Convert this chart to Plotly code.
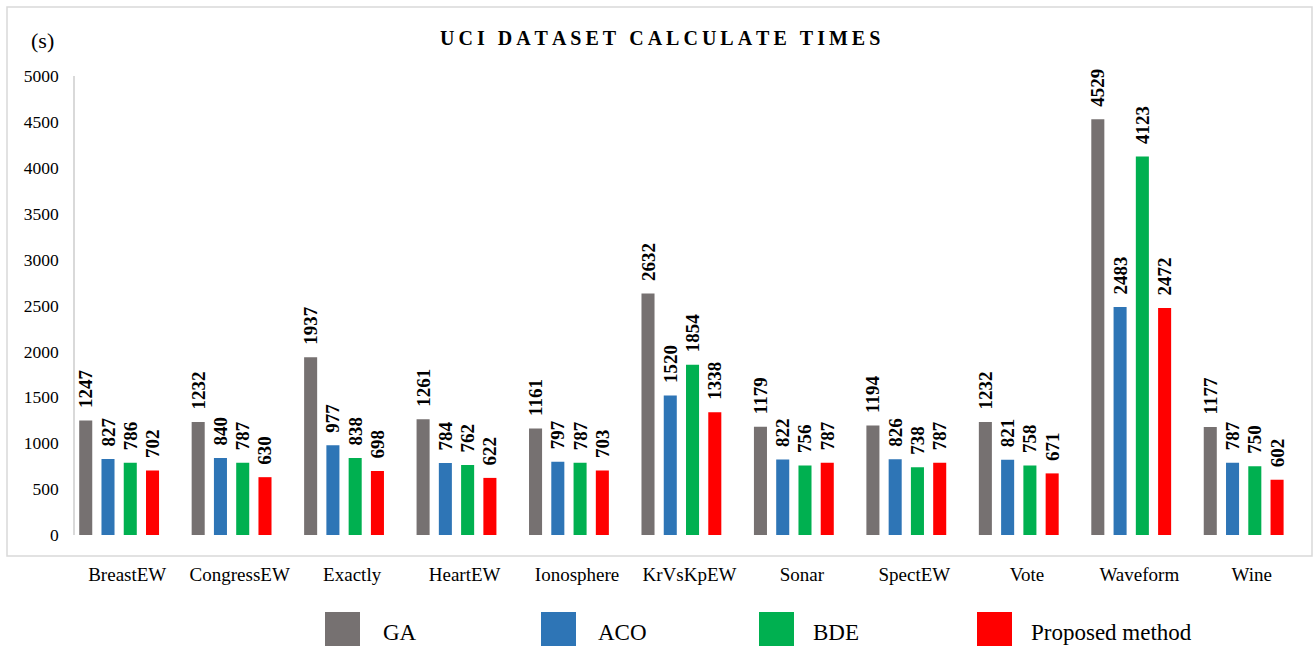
import plotly.graph_objects as go

# Calculation time (seconds) on UCI datasets for each method
datasets = ["BreastEW", "CongressEW", "Exactly", "HeartEW", "Ionosphere",
            "KrVsKpEW", "Sonar", "SpectEW", "Vote", "Waveform", "Wine"]
ga = [1247, 1232, 1937, 1261, 1161, 2632, 1179, 1194, 1232, 4529, 1177]
aco = [827, 840, 977, 784, 797, 1520, 822, 826, 821, 2483, 787]
bde = [786, 787, 838, 762, 787, 1854, 756, 738, 758, 4123, 750]
proposed = [702, 630, 698, 622, 703, 1338, 787, 787, 671, 2472, 602]

series_names = ["GA", "ACO", "BDE", "Proposed method"]
series_values = [ga, aco, bde, proposed]
colors = ["#767171", "#2E75B6", "#00B050", "#FF0000"]
y_ticks = list(range(0, 5001, 500))

W, H = 1315, 646
SERIF = "Liberation Serif, Times New Roman, serif"


def px_x(x):
    return x / W


def px_y(y):
    return 1 - y / H


bar_width = 0.116
bar_offsets = [-0.427, -0.229, -0.031, 0.167]

fig = go.Figure()
for name, vals, col, off in zip(series_names, series_values, colors, bar_offsets):
    fig.add_trace(go.Bar(
        x=datasets, y=vals, name=name,
        marker=dict(color=col, line=dict(width=0)),
        width=bar_width, offset=off,
        texttemplate="\u00a0\u00a0%{y}",
        textposition="outside", textangle=-90,
        constraintext="none", cliponaxis=False,
        textfont=dict(family=SERIF, size=19, color="black", weight="bold"),
        showlegend=False,
    ))

# Outer chart border
fig.add_shape(type="rect", xref="paper", yref="paper",
              x0=px_x(7), x1=px_x(1312), y0=px_y(556), y1=px_y(7),
              line=dict(color="#d9d9d9", width=1.5), fillcolor="rgba(0,0,0,0)")

# Legend drawn as squares with labels along the bottom
legend_sq_x = [325, 541, 759, 977]
legend_txt_x = [381, 596, 811, 1029]
for name, col, sx, tx in zip(series_names, colors, legend_sq_x, legend_txt_x):
    fig.add_shape(type="rect", xref="paper", yref="paper",
                  x0=px_x(sx), x1=px_x(sx + 35), y0=px_y(646), y1=px_y(612),
                  line=dict(width=0), fillcolor=col)
    fig.add_annotation(xref="paper", yref="paper", x=px_x(tx), y=px_y(632),
                       xanchor="left", yanchor="middle", showarrow=False,
                       text=name, font=dict(family=SERIF, size=23, color="black"))

# Unit label
fig.add_annotation(xref="paper", yref="paper", x=px_x(42), y=px_y(40),
                   xanchor="center", yanchor="middle", showarrow=False,
                   text="(s)", font=dict(family=SERIF, size=22, color="black"))

# Title with spaced capitals
title = "UCI DATASET CALCULATE TIMES"
spaced = "\u2009".join(title)
fig.add_annotation(xref="paper", yref="paper", x=px_x(660), y=px_y(38),
                   xanchor="center", yanchor="middle", showarrow=False,
                   text=spaced, font=dict(family=SERIF, size=20, color="black", weight="bold"))

fig.update_layout(
    width=W, height=H,
    margin=dict(l=0, r=0, t=0, b=0, autoexpand=False),
    paper_bgcolor="white", plot_bgcolor="white",
    barmode="overlay",
    xaxis=dict(
        domain=[px_x(71), px_x(1308)],
        type="category", categoryorder="array", categoryarray=datasets,
        showline=False, showgrid=False, zeroline=False, ticks="",
        automargin=False,
        ticklabelstandoff=26,
        tickfont=dict(family=SERIF, size=19, color="black"),
    ),
    yaxis=dict(
        domain=[px_y(535), px_y(76)],
        anchor="free", position=px_x(74),
        range=[0, 5000], tickvals=y_ticks,
        showline=True, linecolor="#d9d9d9", linewidth=1.5,
        showgrid=False, zeroline=False, ticks="",
        automargin=False,
        ticklabelstandoff=11,
        tickfont=dict(family=SERIF, size=17.5, color="black"),
    ),
)

fig.write_html("out.html")
